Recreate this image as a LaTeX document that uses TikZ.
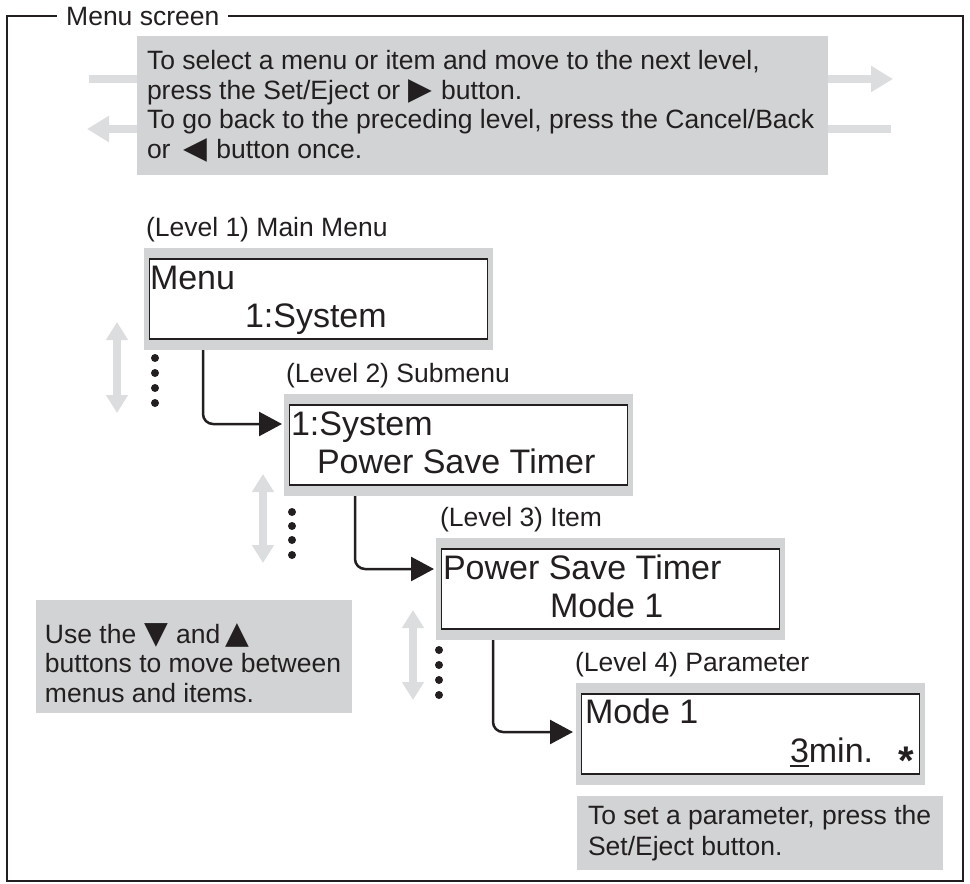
\documentclass[tikz,border=0pt]{standalone}
\usepackage{fontspec}
\setmainfont{Liberation Sans}
\newfontfamily\symf{DejaVu Sans}
\usetikzlibrary{arrows.meta,calc}
\definecolor{boxgray}{HTML}{D1D3D4}
\definecolor{arrgray}{HTML}{DCDDDE}
\definecolor{ink}{HTML}{231F20}
\newcommand\myul[1]{\setbox0\hbox{#1}\rlap{\rule[-5pt]{\wd0}{2pt}}#1}
\newcommand\tri[1]{{\symf\fontsize{31}{31}\selectfont #1}}
\begin{document}
\begin{tikzpicture}[x=1pt,y=-1pt,
  txt/.style={anchor=base west, inner sep=0, outer sep=0, text=ink, font=\fontsize{26.5}{30}\selectfont},
  disp/.style={anchor=base west, inner sep=0, outer sep=0, text=ink, font=\fontsize{34}{38}\selectfont},
  graybox/.style={fill=boxgray, anchor=north west, inner sep=0, outer sep=0},
  outerbox/.style={graybox, minimum width=349, minimum height=102},
  innerbox/.style={fill=white, draw=ink, line width=1.3, anchor=north west, inner sep=0, outer sep=0, minimum width=338, minimum height=80},
  grayarr/.style={draw=arrgray, line width=8, -{Triangle[length=22pt,width=25pt]}},
  vgarr/.style={draw=arrgray, line width=8, {Triangle[length=18pt,width=21pt]}-{Triangle[length=18pt,width=21pt]}},
  conn/.style={draw=ink, line width=2.5, rounded corners=10, -{Triangle[length=23pt,width=24pt]}},
  dot/.style={circle, fill=ink, inner sep=0, minimum size=8}
]
\useasboundingbox (0,0) rectangle (970,884);
% frame
\draw[ink, line width=2.5] (7,16) rectangle (963,881);
\node[fill=white, inner xsep=9, inner ysep=3, anchor=base west, text=ink, font=\fontsize{26.5}{30}\selectfont] (title) at (57,25) {Menu screen};
% top gray arrows
\coordinate (ra1) at (89,79);
\coordinate (ra2) at (893,79);
\coordinate (la1) at (891,129);
\coordinate (la2) at (87,129);
\draw[grayarr] (ra1) -- (ra2);
\draw[grayarr] (la1) -- (la2);
% top box (base anchor of a multi-line node = last line)
\node[graybox, minimum width=691, minimum height=139] (topbox) at (137,36) {};
\node[txt, align=left, font=\fontsize{26.5}{29.5}\selectfont] (toptext) at (147,158) {To select a menu or item and move to the next level,\\press the Set/Eject or\hspace{8pt}\tri{▶}\hspace{9pt}button.\\To go back to the preceding level, press the Cancel/Back\\or\hspace{13pt}\tri{◀}\hspace{9pt}button once.};
% level boxes
\node[txt] (l1) at (146,236) {(Level 1) Main Menu};
\node[outerbox] (b1) at (144,248) {};
\node[innerbox] (b1i) at (149.5,259) {};
\node[disp] (b1a) at (150,289) {Menu};
\node[disp] (b1b) at (245,327) {1:System};

\node[txt] (l2) at (286,382) {(Level 2) Submenu};
\node[outerbox] (b2) at (284,394) {};
\node[innerbox] (b2i) at (289.5,405) {};
\node[disp] (b2a) at (291,435) {1:System};
\node[disp] (b2b) at (317,473) {Power Save Timer};

\node[txt] (l3) at (440,526) {(Level 3) Item};
\node[outerbox] (b3) at (436,538) {};
\node[innerbox] (b3i) at (441.5,549) {};
\node[disp] (b3a) at (443,579) {Power Save Timer};
\node[disp] (b3b) at (550,617) {Mode 1};

\node[txt] (l4) at (575,671) {(Level 4) Parameter};
\node[outerbox] (b4) at (576,683) {};
\node[innerbox] (b4i) at (581.5,694) {};
\node[disp] (b4a) at (585,723) {Mode 1};
\node[disp] (b4b) at (790,762) {\myul{3}min.};
\node[anchor=base, inner sep=0, text=ink, font=\fontsize{40}{40}\selectfont\bfseries] (b4c) at (906,774) {*};
% connectors
\draw[conn] ($(b1.south west)+(59,0)$) |- ($(b2.north west)+(-2,30)$);
\draw[conn] ($(b2.south west)+(71,0)$) |- ($(b3.north west)+(-2,31)$);
\draw[conn] ($(b3.south west)+(57,0)$) |- ($(b4.north west)+(-3,49)$);
% vertical gray arrows
\coordinate (va1t) at (117,322); \coordinate (va1b) at (117,413);
\coordinate (va2t) at (263,474); \coordinate (va2b) at (263,563);
\coordinate (va3t) at (413,610); \coordinate (va3b) at (413,700);
\draw[vgarr] (va1t) -- (va1b);
\draw[vgarr] (va2t) -- (va2b);
\draw[vgarr] (va3t) -- (va3b);
% dots
\foreach \y [count=\i] in {358,373,388,403} \node[dot] (da\i) at (155,\y) {};
\foreach \y [count=\i] in {512,526,540,555} \node[dot] (db\i) at (292,\y) {};
\foreach \y [count=\i] in {650,665,680,695} \node[dot] (dc\i) at (439,\y) {};
% left note
\node[graybox, minimum width=316, minimum height=113] (usebox) at (36,600) {};
\node[txt, align=left, font=\fontsize{26.5}{29.5}\selectfont] (usetext) at (45,702) {Use the\hspace{8pt}\tri{▼}\hspace{8pt}and\hspace{5pt}\tri{▲}\\buttons to move between\\menus and items.};
% bottom note
\node[graybox, minimum width=366, minimum height=74] (setbox) at (577,796) {};
\node[txt, align=left, font=\fontsize{26.5}{31}\selectfont] (settext) at (588,855) {To set a parameter, press the\\Set/Eject button.};
\end{tikzpicture}
\end{document}
